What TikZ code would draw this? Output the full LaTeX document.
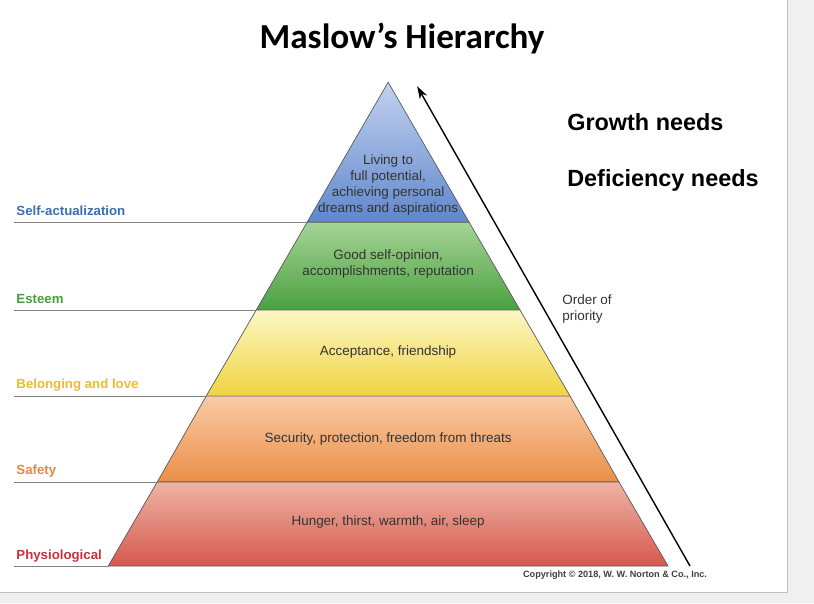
\documentclass[tikz,border=0pt]{standalone}
\usepackage{fontspec}
\setmainfont{Liberation Sans}
\newfontfamily\titlefont{Carlito}
\usetikzlibrary{arrows.meta}
\definecolor{blueA}{RGB}{195,210,238}\definecolor{blueB}{RGB}{95,135,205}
\definecolor{greenA}{RGB}{165,212,150}\definecolor{greenB}{RGB}{75,160,65}
\definecolor{yelA}{RGB}{252,246,195}\definecolor{yelB}{RGB}{240,212,65}
\definecolor{oraA}{RGB}{249,203,165}\definecolor{oraB}{RGB}{235,142,72}
\definecolor{redA}{RGB}{238,180,165}\definecolor{redB}{RGB}{214,88,78}
\definecolor{labBlue}{RGB}{60,110,180}\definecolor{labGreen}{RGB}{70,160,60}
\definecolor{labYel}{RGB}{235,190,40}\definecolor{labOra}{RGB}{230,135,70}
\definecolor{labRed}{RGB}{200,50,60}
\tikzset{
  layer/.style={draw=gray!70!black, line width=0.6pt},
  inner/.style={font=\fontsize{11.5}{13.5}\selectfont, text=black!80, align=center},
  side/.style={font=\bfseries\fontsize{11.3}{12}\selectfont, anchor=west, inner sep=0pt},
  lead/.style={draw=gray, line width=0.7pt},
  big/.style={font=\bfseries\fontsize{20}{24}\selectfont, anchor=west, inner sep=0pt}
}
\begin{document}
\begin{tikzpicture}[x=0.03cm, y=-0.03cm]
  \fill[gray!12] (0,0) rectangle (814,603);
  \fill[white] (0,0) rectangle (787,592);
  \draw[gray!50] (787,0) -- (787,592) -- (0,592);
  \useasboundingbox (0,0) rectangle (814,603);
  % layers of the pyramid
  \shade[layer, top color=blueA, bottom color=blueB] (388,82) -- (469,222) -- (307,222) -- cycle;
  \shade[layer, top color=greenA, bottom color=greenB] (307,222) -- (469,222) -- (520,310) -- (256,310) -- cycle;
  \shade[layer, top color=yelA, bottom color=yelB] (256,310) -- (520,310) -- (570,396) -- (206,396) -- cycle;
  \shade[layer, top color=oraA, bottom color=oraB] (206,396) -- (570,396) -- (619,482) -- (157,482) -- cycle;
  \shade[layer, top color=redA, bottom color=redB] (157,482) -- (619,482) -- (668,566) -- (108,566) -- cycle;
  \node[inner] (top) at (388,185) {Living to\\full potential,\\achieving personal\\dreams and aspirations};
  \node[inner] (esteemtext) at (388,264) {Good self-opinion,\\accomplishments, reputation};
  \node[inner] (lovetext) at (388,352) {Acceptance, friendship};
  \node[inner] (safetext) at (388,439) {Security, protection, freedom from threats};
  \node[inner] (phystext) at (388,522) {Hunger, thirst, warmth, air, sleep};
  % side labels
  \coordinate (l1) at (14,222); \coordinate (r1) at (307,222);
  \coordinate (l2) at (14,310); \coordinate (r2) at (256,310);
  \coordinate (l3) at (14,396); \coordinate (r3) at (206,396);
  \coordinate (l4) at (14,482); \coordinate (r4) at (157,482);
  \coordinate (l5) at (14,566); \coordinate (r5) at (108,566);
  \foreach \i in {1,...,5} \draw[lead] (l\i) -- (r\i);
  \node[side, text=labBlue] (selfact) at (16,211) {Self-actualization};
  \node[side, text=labGreen] (esteem) at (16,299) {Esteem};
  \node[side, text=labYel] (love) at (16,385) {Belonging and love};
  \node[side, text=labOra] (safety) at (16,471) {Safety};
  \node[side, text=labRed] (physio) at (16,556) {Physiological};
  % priority arrow
  \coordinate (arrowfoot) at (690,566);
  \coordinate (arrowhead) at (417,86);
  \draw[line width=1.2pt, -{Stealth[length=11pt,width=7pt]}] (arrowfoot) -- (arrowhead);
  \node[font=\fontsize{11.5}{14}\selectfont, text=black!80, align=left, anchor=north west, inner sep=0pt] (order) at (562,294) {Order of\\priority};
  \node[font=\bfseries\fontsize{7.8}{9}\selectfont, text=black!75] (copy) at (615,575) {Copyright © 2018, W. W. Norton \& Co., Inc.};
  % headings
  \node[font=\titlefont\bfseries\fontsize{30}{36}\selectfont] (title) at (402,38) {Maslow’s Hierarchy};
  \node[big] (growth) at (567,122) {Growth needs};
  \node[big] (deficiency) at (567,180) {Deficiency needs};
\end{tikzpicture}
\end{document}
